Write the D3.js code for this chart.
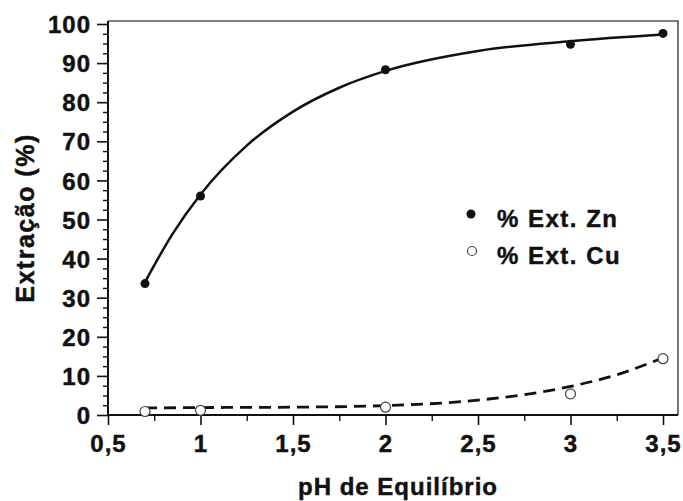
<!DOCTYPE html>
<html><head><meta charset="utf-8">
<script src="https://cdn.jsdelivr.net/npm/d3@7"></script>
<style>body{margin:0;background:#fff}svg{display:block}text{font-family:"Liberation Sans",Arial,sans-serif;font-weight:bold;fill:#111;stroke:#111;stroke-width:0.45px}</style>
</head><body><div id="chart"></div>
<script>
// Measured points
const phZn = [0.7, 1, 2, 3, 3.5];
const extZn = [33.6, 56, 88.3, 94.8, 97.6];
const phCu = [0.7, 1, 2, 3, 3.5];
const extCu = [0.9, 1.2, 2.0, 5.4, 14.4];
// Fitted trend lines
const fitZnX = [0.7, 0.85, 1, 1.25, 1.5, 1.75, 2, 2.5, 3, 3.5];
const fitZnY = [34, 46.4, 56.4, 68.9, 77.6, 83.7, 88, 93.1, 95.6, 97.3];
const fitCuX = [0.7, 1, 1.5, 2, 2.5, 2.75, 3, 3.25, 3.5];
const fitCuY = [1.8, 1.9, 2.0, 2.4, 3.8, 5.2, 7.3, 10.3, 14.6];
const xTicks = [0.5, 1, 1.5, 2, 2.5, 3, 3.5];
const yTicks = [0, 10, 20, 30, 40, 50, 60, 70, 80, 90, 100];
const legendLabels = ["% Ext. Zn", "% Ext. Cu"];

const W = 683, H = 501;
const L = 108, R = 678, T = 21, B = 415;
const x = d3.scaleLinear().domain([0.5, 3.5]).range([L, 663]);
const y = d3.scaleLinear().domain([0, 100]).range([B, 24]);
const fmt = d => String(d).replace('.', ',');

const svg = d3.select('#chart').append('svg').attr('width', W).attr('height', H);

// frame (top/right)
svg.append('path').attr('d', `M${L},${T}H${R}V${B}`).attr('fill','none').attr('stroke','#555').attr('stroke-width',1.6);

// y axis
const ya = svg.append('g').attr('transform', `translate(${L},0)`)
  .call(d3.axisLeft(y).tickValues(yTicks).tickSize(11).tickPadding(6).tickFormat(d3.format('d')));
ya.select('.domain').attr('stroke','#111').attr('stroke-width',2).attr('d', `M0,${B}V${T}`);
ya.selectAll('.tick line').attr('stroke','#111').attr('stroke-width',1.6);
ya.selectAll('text').style('font-size','24px').style('letter-spacing','1px').attr('dy','0.36em');
const yMinor = d3.range(0, 100.01, 2.5).filter(v => v % 10 !== 0);
svg.append('g').attr('transform', `translate(${L},0)`).call(d3.axisLeft(y).tickValues(yMinor).tickSize(5).tickFormat(''))
  .call(g => g.select('.domain').remove())
  .call(g => g.selectAll('line').attr('stroke','#111').attr('stroke-width',1.4));

// x axis
const xa = svg.append('g').attr('transform', `translate(0,${B})`)
  .call(d3.axisBottom(x).tickValues(xTicks).tickSize(10).tickPadding(10).tickFormat(fmt));
xa.select('.domain').attr('stroke','#111').attr('stroke-width',2).attr('d', `M${L},0H${R}`);
xa.selectAll('.tick line').attr('stroke','#111').attr('stroke-width',1.6);
xa.selectAll('text').style('font-size','24px').style('letter-spacing','1px').attr('dy','0.71em');
const xMinor = d3.range(0.75, 3.5, 0.5);
svg.append('g').attr('transform', `translate(0,${B})`).call(d3.axisBottom(x).tickValues(xMinor).tickSize(6).tickFormat(''))
  .call(g => g.select('.domain').remove())
  .call(g => g.selectAll('line').attr('stroke','#111').attr('stroke-width',1.4));

// titles
svg.append('text').attr('x', 398).attr('y', 495).attr('text-anchor','middle')
  .style('font-size','24px').style('letter-spacing','1px').text('pH de Equilíbrio');
svg.append('text').attr('transform', `translate(34,218) rotate(-90)`).attr('text-anchor','middle')
  .style('font-size','25px').style('letter-spacing','1.5px').text('Extração (%)');

// lines
const line = d3.line().x(d => x(d[0])).y(d => y(d[1])).curve(d3.curveMonotoneX);
svg.append('path').datum(fitZnX.map((v,i)=>[v, fitZnY[i]])).attr('d', line)
  .attr('fill','none').attr('stroke','#111').attr('stroke-width',2.5);
svg.append('path').datum(fitCuX.map((v,i)=>[v, fitCuY[i]])).attr('d', line)
  .attr('fill','none').attr('stroke','#111').attr('stroke-width',2.8).attr('stroke-dasharray','12,7');

// points
svg.append('g').selectAll('circle').data(phZn.map((v,i)=>[v, extZn[i]])).join('circle')
  .attr('cx', d=>x(d[0])).attr('cy', d=>y(d[1])).attr('r', 4.5).attr('fill','#111');
svg.append('g').selectAll('circle').data(phCu.map((v,i)=>[v, extCu[i]])).join('circle')
  .attr('cx', d=>x(d[0])).attr('cy', d=>y(d[1])).attr('r', 5).attr('fill','#fff').attr('stroke','#444').attr('stroke-width',1.2);

// legend
const lg = svg.append('g');
lg.append('circle').attr('cx',471).attr('cy',214).attr('r',4.5).attr('fill','#111');
lg.append('circle').attr('cx',472).attr('cy',251).attr('r',4.5).attr('fill','#fff').attr('stroke','#444').attr('stroke-width',1.2);
legendLabels.forEach((t,i) => lg.append('text').attr('x',497).attr('y',227 + i*37)
  .style('font-size','24px').style('letter-spacing','1.5px').text(t));
</script></body></html>
